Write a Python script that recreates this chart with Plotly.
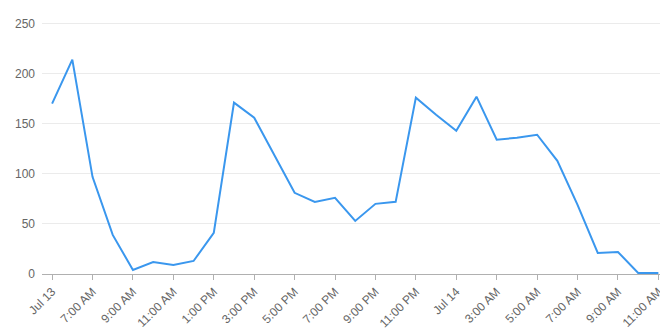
import plotly.graph_objects as go

hours = ["5 AM", "6 AM", "7 AM", "8 AM", "9 AM", "10 AM", "11 AM", "12 PM", "1 PM", "2 PM",
         "3 PM", "4 PM", "5 PM", "6 PM", "7 PM", "8 PM", "9 PM", "10 PM", "11 PM", "12 AM",
         "1 AM", "2 AM", "3 AM", "4 AM", "5 AM", "6 AM", "7 AM", "8 AM", "9 AM", "10 AM", "11 AM"]
values = [170, 214, 97, 39, 4, 12, 9, 13, 41, 171,
          156, 118, 81, 72, 76, 53, 70, 72, 176, 159,
          143, 177, 134, 136, 139, 113, 69, 21, 22, 1, 1]
tick_labels = ["Jul 13", "7:00 AM", "9:00 AM", "11:00 AM", "1:00 PM", "3:00 PM", "5:00 PM",
               "7:00 PM", "9:00 PM", "11:00 PM", "Jul 14", "3:00 AM", "5:00 AM", "7:00 AM",
               "9:00 AM", "11:00 AM"]
y_ticks = [0, 50, 100, 150, 200, 250]

x_idx = list(range(len(values)))
tick_idx = list(range(0, len(values), 2))

fig = go.Figure()
fig.add_trace(go.Scatter(
    x=x_idx, y=values, mode="lines",
    line=dict(color="#3a97ee", width=2),
    hoverinfo="skip", showlegend=False,
))

fig.update_layout(
    width=660, height=332,
    margin=dict(l=42, r=0, t=22, b=58, autoexpand=False),
    paper_bgcolor="white", plot_bgcolor="white",
    font=dict(family="Liberation Sans, Arial, sans-serif", size=12, color="#666666"),
    xaxis=dict(
        range=[-0.5, 30.08],
        tickmode="array", tickvals=tick_idx, ticktext=tick_labels,
        tickangle=-45,
        showgrid=False, zeroline=False,
        showline=True, linecolor="#b0b0b0", linewidth=1,
        ticks="outside", ticklen=5, tickcolor="#b0b0b0",
        tickfont=dict(size=12, color="#666666"),
        ticklabeloverflow="allow", automargin=False,
    ),
    yaxis=dict(
        range=[0, 251.5],
        tickmode="array", tickvals=y_ticks,
        showgrid=True, gridcolor="#ebebeb", gridwidth=1,
        zeroline=False, showline=False,
        ticks="", ticklabelstandoff=6, automargin=False,
        tickfont=dict(size=12, color="#666666"),
    ),
)

fig.write_html("out.html")
